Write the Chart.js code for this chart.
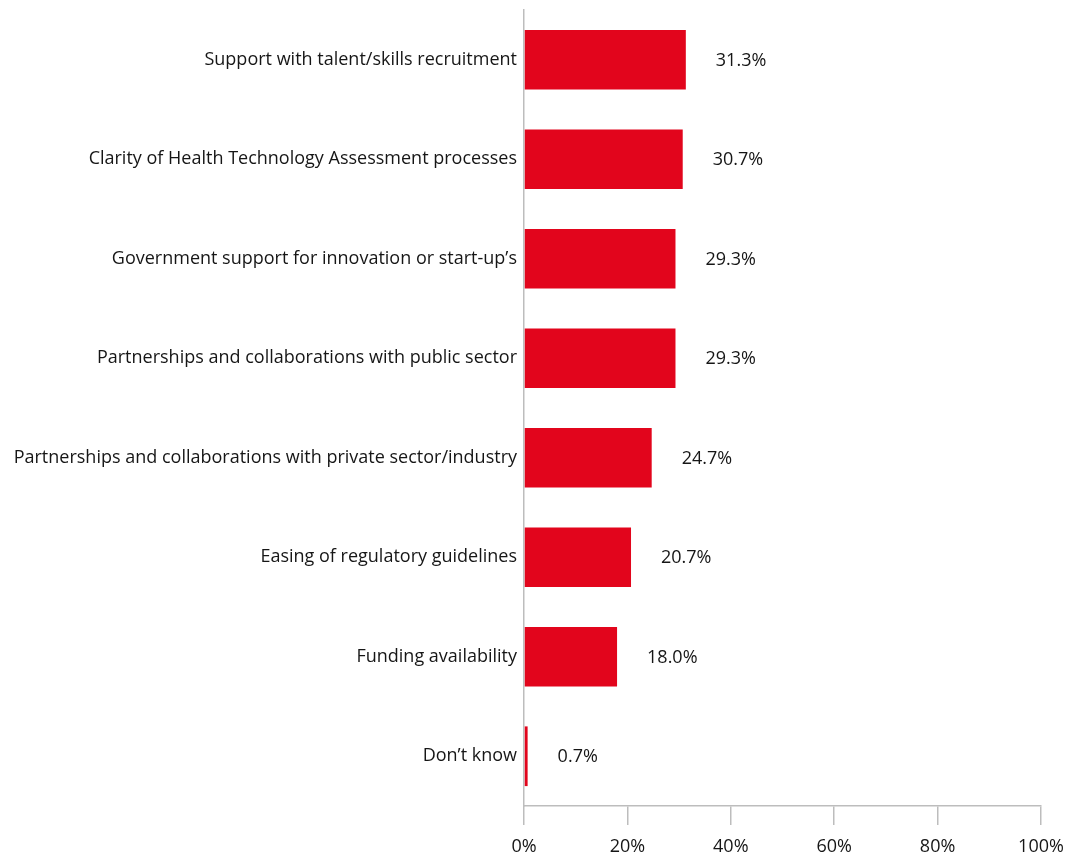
<!DOCTYPE html>
<html>
<head>
<meta charset="utf-8">
<script src="https://cdn.jsdelivr.net/npm/chart.js@4"></script>
<style>
  html, body { margin: 0; padding: 0; background: #fff; }
  #wrap { width: 1076px; height: 855px; }
</style>
</head>
<body>
<div id="wrap"><canvas id="mycanvas"></canvas></div>
<script>
var categories = [
  'Support with talent/skills recruitment',
  'Clarity of Health Technology Assessment processes',
  'Government support for innovation or start-up\u2019s',
  'Partnerships and collaborations with public sector',
  'Partnerships and collaborations with private sector/industry',
  'Easing of regulatory guidelines',
  'Funding availability',
  'Don\u2019t know'
];
var values = [31.3, 30.7, 29.3, 29.3, 24.7, 20.7, 18.0, 0.7];
var xTicks = [0, 20, 40, 60, 80, 100];

var fontFamily = "'Open Sans', sans-serif";
var textColor = '#161616';
var axisColor = '#bdbdbd';

// value labels to the right of each bar
var valueLabels = {
  id: 'valueLabels',
  afterDatasetsDraw: function(chart) {
    var ctx = chart.ctx;
    var meta = chart.getDatasetMeta(0);
    ctx.save();
    ctx.font = '18px ' + fontFamily;
    ctx.fillStyle = textColor;
    ctx.textAlign = 'left';
    ctx.textBaseline = 'middle';
    meta.data.forEach(function(bar, i) {
      ctx.fillText(values[i].toFixed(1) + '%', bar.x + 30, bar.y + 1);
    });
    ctx.restore();
  }
};

var chartdata = {
  labels: categories,
  datasets: [{
    data: values,
    backgroundColor: '#e2051c',
    barPercentage: 0.6,
    categoryPercentage: 1.0
  }]
};

var ctx = document.getElementById('mycanvas');
var barGraph = new Chart(ctx, {
  type: 'bar',
  data: chartdata,
  plugins: [valueLabels],
  options: {
    indexAxis: 'y',
    responsive: true,
    maintainAspectRatio: false,
    animation: false,
    layout: { padding: { top: 10, right: 35, left: 0, bottom: 0 } },
    plugins: {
      legend: { display: false },
      tooltip: { enabled: false }
    },
    scales: {
      x: {
        min: 0,
        max: 100,
        afterBuildTicks: function(scale) {
          scale.ticks = xTicks.map(function(v) { return { value: v }; });
        },
        afterFit: function(scale) { scale.height = 49; },
        grid: {
          drawOnChartArea: false,
          drawTicks: true,
          tickLength: 19,
          color: axisColor,
          lineWidth: 1.5
        },
        border: { color: axisColor, width: 1.5 },
        ticks: {
          padding: 11,
          color: textColor,
          font: { family: fontFamily, size: 18 },
          maxRotation: 0,
          callback: function(v) { return v + '%'; }
        }
      },
      y: {
        grid: { display: false, drawTicks: false },
        border: { color: axisColor, width: 1.5 },
        afterFit: function(scale) {
          scale.width = 524;
          scale.paddingTop = 0;
          scale.paddingBottom = 0;
        },
        ticks: {
          padding: 7,
          color: textColor,
          font: { family: fontFamily, size: 18 }
        }
      }
    }
  }
});
</script>
</body>
</html>
